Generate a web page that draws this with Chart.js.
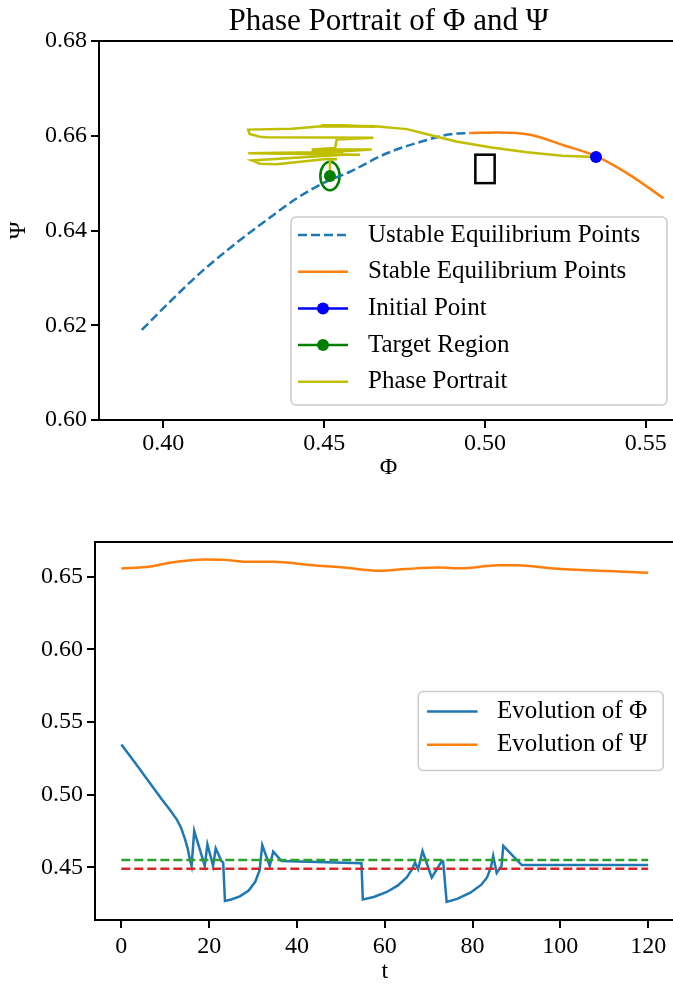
<!doctype html>
<html lang="en">
<head>
<meta charset="utf-8">
<title>Phase Portrait of Φ and Ψ</title>
<script src="https://cdn.jsdelivr.net/npm/chart.js"></script>
<style>
  html, body { margin: 0; padding: 0; background: #fff; overflow: hidden; }
  #wrap { position: relative; width: 673px; height: 986px; overflow: hidden; }
  canvas { position: absolute; left: 0; }
  #phase { top: 0; }
  #evolution { top: 493px; }
</style>
</head>
<body>
<div id="wrap">
  <canvas id="phase" width="700" height="493"></canvas>
  <canvas id="evolution" width="700" height="493"></canvas>
</div>
<script>
// ---- values ----
// top panel: equilibrium curves in the (Phi, Psi) plane
const unstablePhi = [0.3933, 0.4021, 0.4114, 0.4218, 0.4321, 0.4415, 0.4497, 0.4580, 0.4695, 0.4819, 0.4891, 0.4954];
const unstablePsi = [0.6190, 0.6250, 0.6310, 0.6369, 0.6422, 0.6468, 0.6500, 0.6524, 0.6563, 0.6591, 0.6603, 0.6606];
const stablePhi = [0.4954, 0.5037, 0.5140, 0.5244, 0.5348, 0.5451, 0.5555];
const stablePsi = [0.6606, 0.6607, 0.6602, 0.6580, 0.6556, 0.6517, 0.6468];
const initialPhi = [0.5345];
const initialPsi = [0.6555];
const targetPhi = [0.4518];
const targetPsi = [0.6515];
const targetRadius = 0.003;
const boxPhi = [0.497, 0.503];
const boxPsi = [0.650, 0.656];
// trajectory, in drawing order
const portraitPhi = [0.5345, 0.5240, 0.5130, 0.5020, 0.4910, 0.4820, 0.4757, 0.4658, 0.4492, 0.4658, 0.4492, 0.4400, 0.4264,
  0.4268, 0.4300, 0.4321, 0.4653, 0.4539, 0.4534, 0.4461, 0.4648, 0.4573, 0.4461, 0.4560, 0.4264, 0.4612, 0.4480, 0.4560,
  0.4275, 0.4300, 0.4353, 0.4440, 0.4508, 0.4540, 0.4518, 0.4518, 0.4518];
const portraitPsi = [0.6555, 0.6558, 0.6565, 0.6575, 0.6588, 0.6603, 0.6614, 0.6620, 0.6622, 0.6619, 0.6620, 0.6615, 0.6613,
  0.6604, 0.6598, 0.6597, 0.6596, 0.6592, 0.6574, 0.6571, 0.6571, 0.6568, 0.6568, 0.6566, 0.6563, 0.6560, 0.6561, 0.6560,
  0.6548, 0.6541, 0.6540, 0.6546, 0.6551, 0.6551, 0.6549, 0.6530, 0.6522];

// bottom panel: time evolution
const tPhi = [0, 3, 6, 9.2, 11.0, 12.6, 13.6, 14.5, 15.1, 15.6, 16.0, 16.6, 19.0, 19.6, 20.9, 21.5, 22.8, 23.2, 23.6,
  25.0, 27.0, 29.0, 30.5, 31.5, 32.1, 33.8, 34.6, 36.5, 54.7, 55.0, 57.5, 60.5, 63.0, 65.0, 66.2, 66.9, 67.6, 68.6,
  70.7, 73.0, 73.3, 74.1, 76.5, 79.5, 82.0, 83.3, 84.2, 84.7, 85.5, 86.6, 87.0, 91.2, 120];
const phiValues = [0.5345, 0.5225, 0.5100, 0.4968, 0.4897, 0.4830, 0.4772, 0.4693, 0.4630, 0.4555, 0.4509, 0.4750, 0.4509,
  0.4658, 0.4509, 0.4630, 0.4543, 0.4532, 0.4268, 0.4278, 0.4300, 0.4340, 0.4400, 0.4480, 0.4653, 0.4509, 0.4608, 0.4543,
  0.4528, 0.4279, 0.4295, 0.4330, 0.4375, 0.4430, 0.4485, 0.4532, 0.4486, 0.4612, 0.4429, 0.4543, 0.4540, 0.4261, 0.4282,
  0.4325, 0.4380, 0.4430, 0.4500, 0.4578, 0.4461, 0.4509, 0.4647, 0.4515, 0.4515];
const tPsi = [0, 6.6, 11, 15.9, 19.2, 23.5, 28.5, 34.4, 43.7, 50, 58.9, 64.8, 72.4, 77.4, 85.9, 90.1, 98.5, 111.1, 120];
const psiValues = [0.6555, 0.6570, 0.6595, 0.6613, 0.6617, 0.6615, 0.6602, 0.6602, 0.6578, 0.6565, 0.6540, 0.6552, 0.6562,
  0.6557, 0.6578, 0.6578, 0.6556, 0.6538, 0.6527];
const tBounds = [0, 120];
const upperBound = [0.455, 0.455];
const lowerBound = [0.449, 0.449];

const phaseXTicks = [0.40, 0.45, 0.50, 0.55];
const phaseYTicks = [0.60, 0.62, 0.64, 0.66, 0.68];
const timeTicks = [0, 20, 40, 60, 80, 100, 120];
const evoYTicks = [0.45, 0.50, 0.55, 0.60, 0.65];

Chart.defaults.font.family = '"Liberation Serif", "Times New Roman", serif';
Chart.defaults.font.size = 24;
Chart.defaults.color = '#000';

function pts(xs, ys) {
  return xs.map((x, i) => ({ x: x, y: ys[i] }));
}

function axis(min, max, ticks, fmt, fit, pad, title) {
  return {
    type: 'linear', min: min, max: max,
    afterBuildTicks: s => { s.ticks = ticks.map(v => ({ value: v })); },
    afterFit: fit,
    ticks: { callback: fmt, color: '#000', padding: pad, maxRotation: 0, autoSkip: false },
    grid: { drawOnChartArea: false, drawTicks: true, tickLength: 8, tickWidth: 2, tickColor: '#000', lineWidth: 2, color: '#000' },
    border: { display: false },
    title: title || { display: false }
  };
}

// four spines like matplotlib
const frame = {
  id: 'frame',
  afterDatasetsDraw(chart) {
    const a = chart.chartArea, ctx = chart.ctx;
    ctx.save();
    ctx.strokeStyle = '#000';
    ctx.lineWidth = 2;
    ctx.strokeRect(a.left, a.top, a.right - a.left, a.bottom - a.top);
    ctx.restore();
  }
};

// title centred over the axes
const axesTitle = {
  id: 'axesTitle',
  afterDraw(chart, args, opts) {
    if (!opts.text) return;
    const a = chart.chartArea, ctx = chart.ctx;
    ctx.save();
    ctx.font = '31px "Liberation Serif", serif';
    ctx.fillStyle = '#000';
    ctx.textAlign = 'center';
    ctx.textBaseline = 'alphabetic';
    ctx.fillText(opts.text, (a.left + a.right) / 2, opts.baseline);
    ctx.restore();
  }
};

// target circle and marker box, drawn under the lines
const shapes = {
  id: 'shapes',
  beforeDatasetsDraw(chart) {
    const xs = chart.scales.x, ys = chart.scales.y, ctx = chart.ctx;
    ctx.save();
    const cx = xs.getPixelForValue(targetPhi[0]), cy = ys.getPixelForValue(targetPsi[0]);
    const rx = Math.abs(xs.getPixelForValue(targetPhi[0] + targetRadius) - cx);
    const ry = Math.abs(ys.getPixelForValue(targetPsi[0] + targetRadius) - cy);
    ctx.strokeStyle = '#008000';
    ctx.lineWidth = 2.5;
    ctx.beginPath();
    ctx.ellipse(cx, cy, rx, ry, 0, 0, 2 * Math.PI);
    ctx.stroke();
    const x0 = xs.getPixelForValue(boxPhi[0]), x1 = xs.getPixelForValue(boxPhi[1]);
    const y0 = ys.getPixelForValue(boxPsi[1]), y1 = ys.getPixelForValue(boxPsi[0]);
    ctx.strokeStyle = '#000';
    ctx.lineWidth = 2.5;
    ctx.strokeRect(x0, y0, x1 - x0, y1 - y0);
    ctx.restore();
  }
};

// matplotlib-style legend box
const mplLegend = {
  id: 'mplLegend',
  afterDraw(chart, args, o) {
    const a = chart.chartArea, ctx = chart.ctx;
    const x0 = a.right - o.right - o.width;
    const y0 = o.centerY ? (a.top + a.bottom) / 2 - o.height / 2 : a.bottom - o.bottom - o.height;
    ctx.save();
    ctx.beginPath();
    ctx.roundRect(x0, y0, o.width, o.height, 5);
    ctx.fillStyle = 'rgba(255,255,255,0.8)';
    ctx.fill();
    ctx.strokeStyle = '#cccccc';
    ctx.lineWidth = 1.5;
    ctx.stroke();
    o.items.forEach((idx, i) => {
      const ds = chart.data.datasets[idx];
      const y = y0 + o.firstRow + i * o.rowGap;
      const hx = x0 + o.handleX;
      const color = ds.showLine === false ? ds.backgroundColor : ds.borderColor;
      ctx.strokeStyle = color;
      ctx.lineWidth = 2.5;
      ctx.setLineDash(ds.borderDash || []);
      ctx.beginPath();
      ctx.moveTo(hx, y);
      ctx.lineTo(hx + o.handleW, y);
      ctx.stroke();
      ctx.setLineDash([]);
      if (ds.showLine === false) {
        ctx.fillStyle = color;
        ctx.beginPath();
        ctx.arc(hx + o.handleW / 2, y, 6, 0, 2 * Math.PI);
        ctx.fill();
      }
      ctx.fillStyle = '#000';
      ctx.font = '25px "Liberation Serif", serif';
      ctx.textBaseline = 'middle';
      ctx.textAlign = 'left';
      ctx.fillText(ds.label, x0 + o.textX, y);
    });
    ctx.restore();
  }
};

const common = { responsive: false, animation: false, events: [] };

new Chart(document.getElementById('phase'), {
  type: 'scatter',
  data: {
    datasets: [
      { label: 'Ustable Equilibrium Points', data: pts(unstablePhi, unstablePsi), showLine: true,
        borderColor: '#1f77b4', borderDash: [9, 4], borderWidth: 2.5, pointRadius: 0, cubicInterpolationMode: 'monotone', order: 5 },
      { label: 'Stable Equilibrium Points', data: pts(stablePhi, stablePsi), showLine: true,
        borderColor: '#ff7f0e', borderWidth: 2.5, pointRadius: 0, cubicInterpolationMode: 'monotone', order: 4 },
      { label: 'Initial Point', data: pts(initialPhi, initialPsi), showLine: false,
        backgroundColor: '#0000ff', borderColor: '#0000ff', pointRadius: 6, borderWidth: 0, order: 2 },
      { label: 'Target Region', data: pts(targetPhi, targetPsi), showLine: false,
        backgroundColor: '#008000', borderColor: '#008000', pointRadius: 6, borderWidth: 0, order: 1 },
      { label: 'Phase Portrait', data: pts(portraitPhi, portraitPsi), showLine: true,
        borderColor: '#bfbf00', borderWidth: 2.5, pointRadius: 0, tension: 0, order: 3 }
    ]
  },
  options: Object.assign({}, common, {
    layout: { padding: { top: 41, right: 22, left: 0, bottom: 0 } },
    scales: {
      x: axis(0.38, 0.56, phaseXTicks, v => v.toFixed(2), s => { s.height = 73; }, 1,
        { display: true, text: 'Φ', color: '#000', padding: { top: 0, bottom: 11 } }),
      y: axis(0.60, 0.68, phaseYTicks, v => v.toFixed(2), s => { s.width = 99; }, 4,
        { display: true, text: 'Ψ', color: '#000', padding: { top: 4, bottom: 0 } })
    },
    plugins: {
      legend: { display: false }, tooltip: { enabled: false },
      axesTitle: { text: 'Phase Portrait of Φ and Ψ', baseline: 30 },
      mplLegend: { items: [0, 1, 2, 3, 4], width: 376, height: 188, right: 11, bottom: 15,
        firstRow: 18, rowGap: 36.7, handleX: 7, handleW: 50, textX: 77 }
    }
  }),
  plugins: [shapes, frame, axesTitle, mplLegend]
});

new Chart(document.getElementById('evolution'), {
  type: 'scatter',
  data: {
    datasets: [
      { label: 'Evolution of Φ', data: pts(tPhi, phiValues), showLine: true,
        borderColor: '#1f77b4', borderWidth: 2.5, pointRadius: 0, tension: 0, order: 4 },
      { label: 'Evolution of Ψ', data: pts(tPsi, psiValues), showLine: true,
        borderColor: '#ff7f0e', borderWidth: 2.5, pointRadius: 0, cubicInterpolationMode: 'monotone', order: 3 },
      { label: 'upper', data: pts(tBounds, upperBound), showLine: true,
        borderColor: '#2ca02c', borderDash: [9, 4], borderWidth: 2.5, pointRadius: 0, order: 2 },
      { label: 'lower', data: pts(tBounds, lowerBound), showLine: true,
        borderColor: '#d62728', borderDash: [9, 4], borderWidth: 2.5, pointRadius: 0, order: 1 }
    ]
  },
  options: Object.assign({}, common, {
    layout: { padding: { top: 49, right: 25.5, left: 0, bottom: 0 } },
    scales: {
      x: axis(-6, 126, timeTicks, v => String(v), s => { s.height = 66; }, 4,
        { display: true, text: 't', color: '#000', padding: { top: 0, bottom: 0 } }),
      y: axis(0.4137, 0.6738, evoYTicks, v => v.toFixed(2), s => { s.width = 95; }, 4)
    },
    plugins: {
      legend: { display: false }, tooltip: { enabled: false },
      mplLegend: { items: [0, 1], width: 245, height: 79, right: 11.2, centerY: true,
        firstRow: 20, rowGap: 33.3, handleX: 8.7, handleW: 50.6, textX: 78.7 }
    }
  }),
  plugins: [frame, mplLegend]
});
</script>
</body>
</html>
